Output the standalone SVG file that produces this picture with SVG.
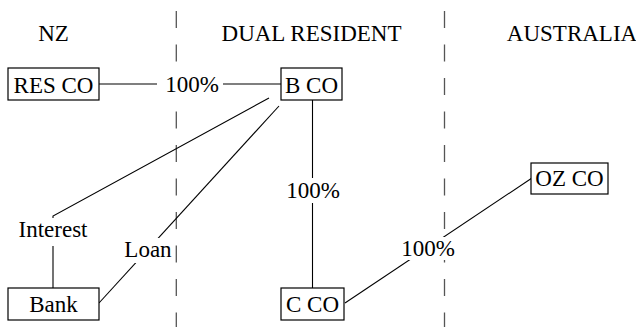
<svg xmlns="http://www.w3.org/2000/svg" width="636" height="327" viewBox="0 0 636 327" font-family="Liberation Serif, Times New Roman, DejaVu Serif, serif">
<style>
text{font-family:'Liberation Serif','Times New Roman','DejaVu Serif',serif;font-size:23px;fill:#000;text-anchor:middle}
.box{fill:#fff;stroke:#000;stroke-width:1.2}
.ln{stroke:#000;stroke-width:1.1;fill:none}
.dash{stroke:#555;stroke-width:1.3;stroke-dasharray:17 16.5;fill:none}
.lbl{fill:#fff;stroke:none}
</style>
<rect width="636" height="327" fill="#fff"/>
<g id="dividers">
<line class="dash" x1="176.3" y1="11" x2="176.3" y2="327"/>
<line class="dash" x1="444.5" y1="11" x2="444.5" y2="327"/>
</g>
<g id="headers">
<text x="53.5" y="41">NZ</text>
<text x="311.5" y="41">DUAL RESIDENT</text>
<text x="572" y="41">AUSTRALIA</text>
</g>
<g id="connectors">
<line class="ln" x1="99" y1="84" x2="281" y2="84"/>
<rect class="lbl" x="157" y="72" width="66" height="24"/>
<text x="192" y="92">100%</text>
<line class="ln" x1="312.5" y1="100" x2="312.5" y2="288"/>
<rect class="lbl" x="285" y="178" width="56" height="25"/>
<text x="313" y="198">100%</text>
<line class="ln" x1="345" y1="303" x2="532" y2="178"/>
<rect class="lbl" x="397" y="237" width="62" height="23"/>
<text x="428" y="256">100%</text>
<polyline class="ln" points="269,98 53,216 53,288"/>
<rect class="lbl" x="14" y="218" width="78" height="28"/>
<text x="53" y="237">Interest</text>
<line class="ln" x1="279" y1="106" x2="99" y2="303"/>
<rect class="lbl" x="122" y="238" width="52" height="25"/>
<text x="148" y="257">Loan</text>
</g>
<g id="res-co">
<rect class="box" x="8" y="68" width="91" height="32"/>
<text x="53.5" y="92.5">RES CO</text>
</g>
<g id="b-co">
<rect class="box" x="281" y="68" width="61" height="32"/>
<text x="311.5" y="92.5">B CO</text>
</g>
<g id="bank">
<rect class="box" x="8" y="288" width="91" height="32"/>
<text x="53.5" y="312">Bank</text>
</g>
<g id="c-co">
<rect class="box" x="281" y="288" width="63" height="32"/>
<text x="312.5" y="312">C CO</text>
</g>
<g id="oz-co">
<rect class="box" x="531" y="163" width="77" height="31"/>
<text x="569.5" y="186">OZ CO</text>
</g>
</svg>
